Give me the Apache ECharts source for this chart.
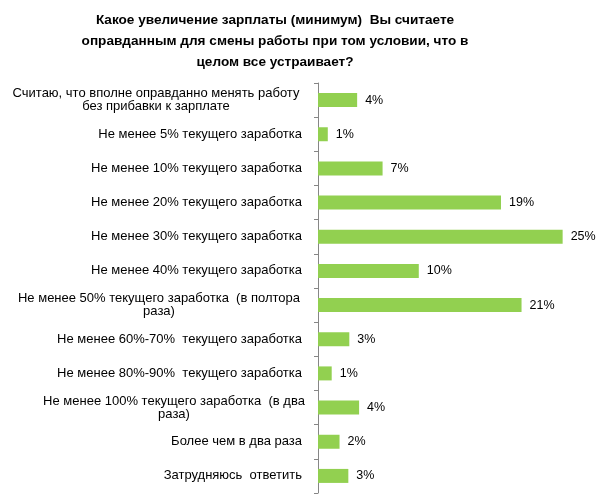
<!DOCTYPE html>
<html><head><meta charset="utf-8">
<script src="https://cdn.jsdelivr.net/npm/echarts@6/dist/echarts.min.js"></script>
<style>html,body{margin:0;padding:0;background:#fff}#c{width:604px;height:496px}</style>
</head><body><div id="c"></div>
<script>
const titleText = 'Какое увеличение зарплаты (минимум)  Вы считаете\nоправданным для смены работы при том условии, что в\nцелом все устраивает?';
const categories = [
  'Считаю, что вполне оправданно менять работу\nбез прибавки к зарплате',
  'Не менее 5% текущего заработка',
  'Не менее 10% текущего заработка',
  'Не менее 20% текущего заработка',
  'Не менее 30% текущего заработка',
  'Не менее 40% текущего заработка',
  'Не менее 50% текущего заработка  (в полтора\nраза)',
  'Не менее 60%-70%  текущего заработка',
  'Не менее 80%-90%  текущего заработка',
  'Не менее 100% текущего заработка  (в два\nраза)',
  'Более чем в два раза',
  'Затрудняюсь  ответить'
];
const values = [4.0, 1.0, 6.6, 18.7, 25.0, 10.3, 20.8, 3.2, 1.4, 4.2, 2.2, 3.1];
const valueLabels = ['4%', '1%', '7%', '19%', '25%', '10%', '21%', '3%', '1%', '4%', '2%', '3%'];

const chart = echarts.init(document.getElementById('c'), null, {renderer: 'canvas'});
const multiWidth = {0: 292, 6: 286, 9: 256};
const FF = 'Liberation Sans, Arial, sans-serif';
chart.setOption({
  animation: false,
  textStyle: {fontFamily: FF},
  title: {
    text: titleText,
    left: 270,
    top: 5,
    textAlign: 'center',
    textStyle: {fontSize: 13.6, fontWeight: 'bold', color: '#000', lineHeight: 21, fontFamily: FF}
  },
  grid: {left: 318, top: 83, right: 12, bottom: 3, containLabel: false},
  xAxis: {
    type: 'value', min: 0, max: 28,
    show: false
  },
  yAxis: {
    type: 'category', inverse: true,
    data: categories,
    axisLine: {show: true, lineStyle: {color: '#868686', width: 1}},
    axisTick: {show: true, length: 4, lineStyle: {color: '#868686'}},
    axisLabel: {
      margin: 16, color: '#000', fontSize: 13, lineHeight: 13,
      fontFamily: FF,
      formatter: function (v, i) {
        if (multiWidth[i]) {
          const key = 'w' + i;
          return v.split('\n').map(s => '{' + key + '|' + s + '}').join('\n');
        }
        return v;
      },
      rich: {
        w0: {width: 292, align: 'center', fontSize: 13, lineHeight: 13, color: '#000', fontFamily: FF},
        w6: {width: 286, align: 'center', fontSize: 13, lineHeight: 13, color: '#000', fontFamily: FF},
        w9: {width: 256, align: 'center', fontSize: 13, lineHeight: 13, color: '#000', fontFamily: FF}
      }
    }
  },
  series: [{
    type: 'bar',
    data: values,
    barWidth: 14,
    itemStyle: {color: '#92D050'},
    label: {
      show: true, position: 'right', distance: 8,
      color: '#000', fontSize: 12.5,
      fontFamily: FF,
      formatter: p => valueLabels[p.dataIndex]
    }
  }]
});
</script></body></html>
